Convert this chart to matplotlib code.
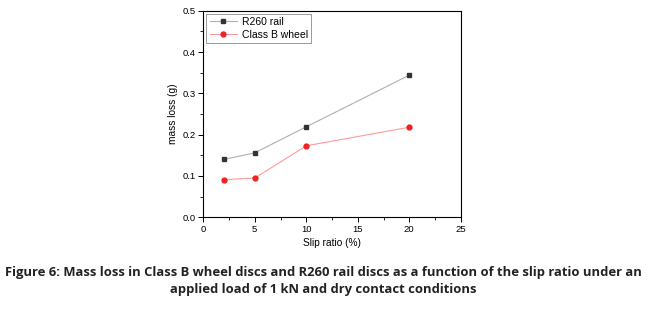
import matplotlib.pyplot as plt
from matplotlib.ticker import MultipleLocator

plt.rcParams['font.family'] = ['Liberation Sans', 'DejaVu Sans']

# dane
slip = [2, 5, 10, 20]
rail_loss = [0.140, 0.156, 0.219, 0.344]
wheel_loss = [0.091, 0.095, 0.173, 0.218]

fig = plt.figure(figsize=(6.47, 3.09), dpi=100)
ax = fig.add_axes([0.3142, 0.2968, 0.398, 0.6686])

ax.plot(slip, rail_loss, color='#b0b0b0', lw=0.8, marker='s', ms=3.3,
        mfc='#333333', mec='#333333', label='R260 rail')
ax.plot(slip, wheel_loss, color='#ff9a9a', lw=0.8, marker='o', ms=3.5,
        mfc='#ee2222', mec='#ee2222', label='Class B wheel')

ax.set_xlim(0, 25)
ax.set_ylim(0, 0.5)
ax.xaxis.set_major_locator(MultipleLocator(5))
ax.xaxis.set_minor_locator(MultipleLocator(2.5))
ax.yaxis.set_major_locator(MultipleLocator(0.1))
ax.yaxis.set_minor_locator(MultipleLocator(0.05))
ax.tick_params(which='major', direction='out', length=3.5, width=0.7, labelsize=6.8, pad=2)
ax.tick_params(which='minor', direction='out', length=2, width=0.6)
for s in ax.spines.values():
    s.set_linewidth(0.8)

ax.set_xlabel('Slip ratio (%)', fontsize=7.3, labelpad=3)
ax.set_ylabel('mass loss (g)', fontsize=7.3, labelpad=3)

leg = ax.legend(loc='upper left', fontsize=7.5, fancybox=False, framealpha=1,
                edgecolor='#999999', borderpad=0.3, handlelength=2.6,
                handletextpad=0.5, labelspacing=0.25, borderaxespad=0.3)
leg.get_frame().set_linewidth(0.7)

fig.text(0.5, 0.091, 'Figure 6: Mass loss in Class B wheel discs and R260 rail discs as a function of the slip ratio under an\n'
         'applied load of 1 kN and dry contact conditions',
         ha='center', va='center', fontsize=9.4, fontweight='bold',
         family=['Open Sans', 'DejaVu Sans'], linespacing=1.35, color='#222222')

fig.savefig('out.png', dpi=100)
